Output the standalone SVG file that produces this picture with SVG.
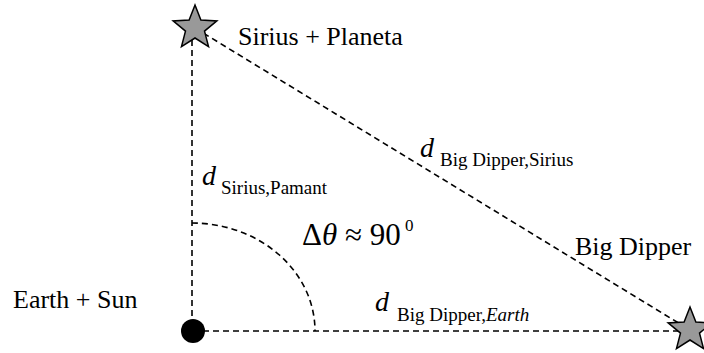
<svg xmlns="http://www.w3.org/2000/svg" width="704" height="353" viewBox="0 0 704 353">
<style>
.dash{fill:none;stroke:#000;stroke-width:1.6;stroke-dasharray:6,4}
.star{fill:#999;stroke:#000;stroke-width:1.5;stroke-linejoin:miter}
text{font-family:'Liberation Serif','DejaVu Serif',serif;fill:#000}
.lbl{font-size:26px}
.d{font-size:28px;font-style:italic}
.sub{font-size:19px}
</style>
<defs>
<path id="starShape" d="M0,-23 L5.88,-8.09 L21.87,-7.11 L9.51,3.09 L13.52,18.61 L0,10 L-13.52,18.61 L-9.51,3.09 L-21.87,-7.11 L-5.88,-8.09 Z"/>
</defs>
<g id="connectors">
<line class="dash" x1="192" y1="40" x2="192" y2="331"/>
<line class="dash" x1="193" y1="331" x2="690" y2="331"/>
<line class="dash" x1="195" y1="28" x2="690" y2="330"/>
<path class="dash" d="M192,223 A123,108 0 0,1 315,331"/>
</g>
<g id="sirius">
<use href="#starShape" class="star" x="195" y="28"/>
<text class="lbl" x="238" y="45">Sirius + Planeta</text>
</g>
<g id="earth">
<circle cx="193" cy="331" r="12" fill="#000"/>
<text class="lbl" x="13" y="308">Earth + Sun</text>
</g>
<g id="bigdipper">
<use href="#starShape" class="star" x="690" y="330"/>
<text class="lbl" x="575" y="255">Big Dipper</text>
</g>
<g id="label-d-sirius-pamant">
<text class="d" x="202" y="185">d</text>
<text class="sub" x="221" y="194">Sirius,Pamant</text>
</g>
<g id="label-d-bigdipper-sirius">
<text class="d" x="420" y="157">d</text>
<text class="sub" x="440" y="166">Big Dipper,Sirius</text>
</g>
<g id="label-d-bigdipper-earth">
<text class="d" x="375" y="311">d</text>
<text class="sub" x="397" y="321">Big Dipper,<tspan font-style="italic">Earth</tspan></text>
</g>
<g id="label-angle">
<text x="302" y="245" font-size="31">Δ<tspan font-style="italic">θ</tspan> ≈ 90</text>
<text x="405" y="231" font-size="17">0</text>
</g>
</svg>
